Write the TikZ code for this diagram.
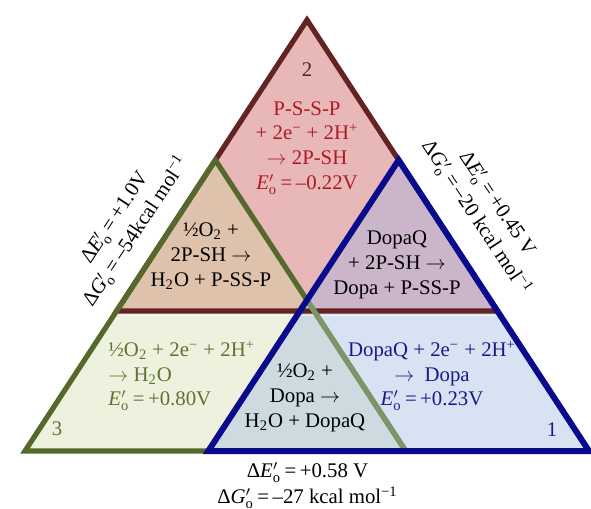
\documentclass[tikz,border=0pt]{standalone}
\usepackage{fontspec}
\setmainfont{Liberation Serif}
\usetikzlibrary{calc}
\definecolor{brownline}{RGB}{100,35,35}
\definecolor{pinkfill}{RGB}{232,184,185}
\definecolor{greenline}{RGB}{85,105,45}
\definecolor{greenlight}{RGB}{125,150,105}
\definecolor{greenfill}{RGB}{237,241,222}
\definecolor{blueline}{RGB}{10,10,140}
\definecolor{bluefill}{RGB}{215,227,243}
\definecolor{tanfill}{RGB}{222,194,172}
\definecolor{mauvefill}{RGB}{203,181,202}
\definecolor{grayfill}{RGB}{205,219,224}
\definecolor{redtext}{RGB}{175,25,35}
\definecolor{numbrown}{RGB}{90,35,35}
\definecolor{greentext}{RGB}{95,115,50}
\definecolor{navytext}{RGB}{25,25,140}
\newcommand\Eo{\textit{E}${}'_{\mathrm{o}}$}
\newcommand\Go{\textit{G}${}'_{\mathrm{o}}$}
\newcommand\arr{$\rightarrow$}
\begin{document}
\begin{tikzpicture}[x=0.5pt,y=-0.5pt,
  every node/.style={font=\fontsize{10.4}{12.4}\selectfont, inner sep=0pt},
  edge/.style={line width=2.6pt, line join=miter},
  lbl/.style={align=center}]
\useasboundingbox (0,0) rectangle (591,509);
\coordinate (A) at (307,20);
\coordinate (BL) at (25,451);
\coordinate (BR) at (589,451);
\coordinate (T2L) at ($(A)!0.675!(BL)$);
\coordinate (T2R) at ($(A)!0.675!(BR)$);
\coordinate (T3A) at ($(BL)!0.675!(A)$);
\coordinate (T3R) at ($(BL)!0.675!(BR)$);
\coordinate (T1A) at ($(BR)!0.675!(A)$);
\coordinate (T1L) at ($(BR)!0.675!(BL)$);
\coordinate (X) at (intersection of T3A--T3R and T1A--T1L);
% fills
\fill[pinkfill] (A)--(T2L)--(T2R)--cycle;
\fill[greenfill] (BL)--(T3A)--(T3R)--cycle;
\fill[bluefill] (BR)--(T1A)--(T1L)--cycle;
\begin{scope}
  \clip (A)--(T2L)--(T2R)--cycle;
  \fill[tanfill] (BL)--(T3A)--(T3R)--cycle;
  \fill[mauvefill] (BR)--(T1A)--(T1L)--cycle;
\end{scope}
\begin{scope}
  \clip (BL)--(T3A)--(T3R)--cycle;
  \fill[grayfill] (BR)--(T1A)--(T1L)--cycle;
\end{scope}
% outlines
\draw[edge, brownline] (A)--(T2L)--(T2R)--cycle;
\draw[white, opacity=0.6, line width=0.8pt] ($(T2L)+(0,4.5)$)--($(T2R)+(0,4.5)$);
\draw[edge, greenline] (BL)--(T3A)--(T3R)--cycle;
\draw[edge, greenlight] (X)--(T3R);
\draw[edge, blueline, line width=3pt] (BR)--(T1A)--(T1L)--cycle;
% texts
\node[text=numbrown] (n2) at (307,70) {2};
\node[lbl, text=redtext] (r2) at (307,148) {P-S-S-P\\+ 2e\textsuperscript{−} + 2H\textsuperscript{+}\\\arr\ 2P-SH\\\Eo\,=\,–0.22V};
\node[lbl] (o23) at (211,256) {½O\textsubscript{2} +\\2P-SH \arr\\H\textsubscript{2}O + P-SS-P};
\node[lbl] (o21) at (397,265) {DopaQ\\+ 2P-SH \arr\\Dopa + P-SS-P};
\node[align=left, anchor=west, text=greentext] (r3) at (108,376) {½O\textsubscript{2} + 2e\textsuperscript{−} + 2H\textsuperscript{+}\\\arr\ H\textsubscript{2}O\\\Eo\,=\,+0.80V};
\node[text=greentext] (n3) at (57,429) {3};
\node[lbl] (o31) at (305,398) {½O\textsubscript{2} +\\Dopa \arr\\H\textsubscript{2}O + DopaQ};
\node[lbl, text=navytext] (r1) at (432,376) {DopaQ + 2e\textsuperscript{−} + 2H\textsuperscript{+}\\\arr\ \ Dopa\\\Eo\,=\,+0.23V};
\node[text=navytext] (n1) at (552,430) {1};
% edge labels
\node[rotate=56.5, align=center] (lft) at (126,225) {Δ\Eo\,=\,+1.0V\\[0.3pt]Δ\Go\,=\,–54kcal mol\textsuperscript{−1}};
\node[rotate=-56.5, align=center] (rgt) at (486,211) {Δ\Eo\,=\,+0.45 V\\[0.3pt]Δ\Go\,=\,–20 kcal mol\textsuperscript{−1}};
\node[align=center] (bot) at (307.5,486) {Δ\Eo\,=\,+0.58 V\\[0.6pt]Δ\Go\,=\,–27 kcal mol\textsuperscript{−1}};
\end{tikzpicture}
\end{document}
